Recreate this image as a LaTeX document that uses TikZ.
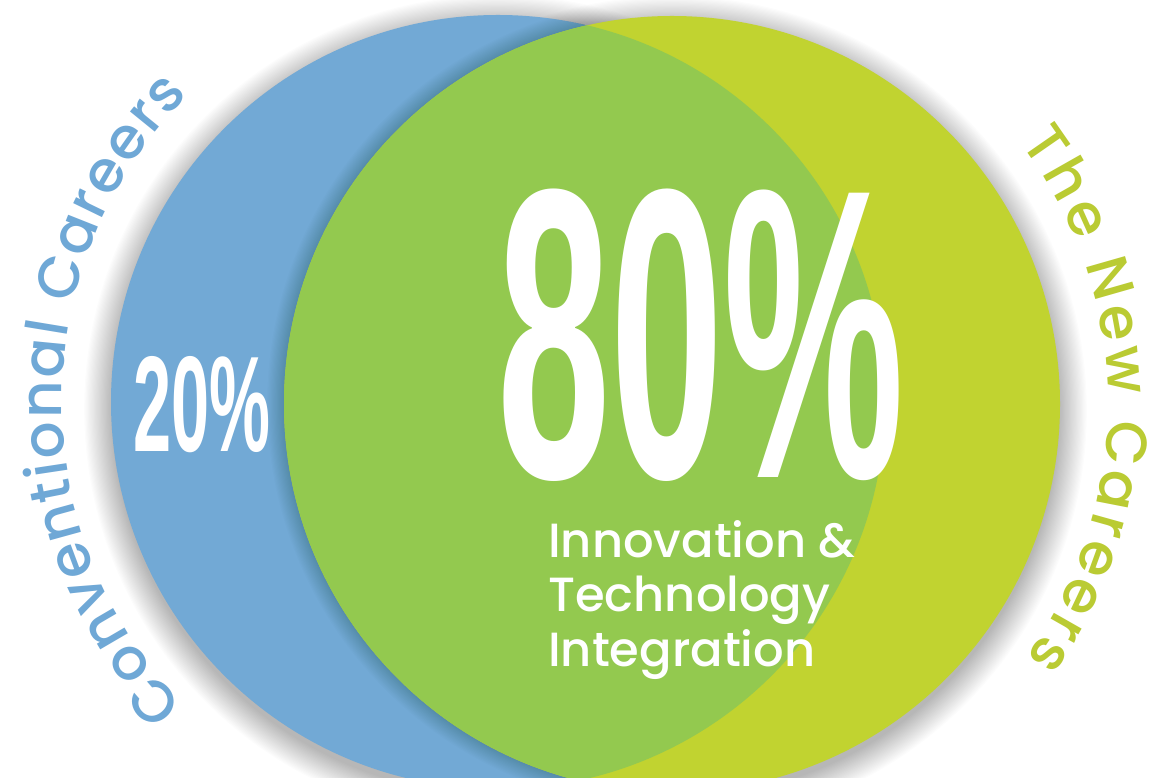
\documentclass[tikz,border=0pt]{standalone}
\usepackage{fontspec}
\usepackage{graphicx}
\usetikzlibrary{decorations.text}
\setmainfont{Poppins}
\newfontfamily\popm{Poppins Medium}
\newfontfamily\numfont{Liberation Sans}
\definecolor{cblue}{HTML}{72A9D5}
\definecolor{cyellow}{HTML}{C1D330}
\definecolor{cgreen}{HTML}{93C94F}
\definecolor{tblue}{HTML}{6FA8D6}
\definecolor{tyellow}{HTML}{BACB33}
\newcommand\crvfont{\popm\fontsize{58}{58}\selectfont}
\tikzset{
  shadowring/.style={black,opacity=0.011},
  innershadow/.style={black,opacity=0.012},
  bigpct/.style={inner sep=0pt,anchor=base west,text=white},
  itline/.style={inner sep=0pt,anchor=base west,text=white,font=\popm\fontsize{48}{48}\selectfont},
}
\begin{document}
\begin{tikzpicture}[x=1pt,y=1pt]
\useasboundingbox (0,0) rectangle (1158,778);
\clip (0,0) rectangle (1158,778);
\fill[white] (0,0) rectangle (1158,778);
\coordinate (bc) at (498,376);
\coordinate (yc) at (672,374);
% outer soft shadow, cast slightly downward
\foreach \i in {1,...,24} {
  \fill[shadowring] ([yshift=-7pt]bc) circle[radius=385+1.2*\i];
  \fill[shadowring] ([yshift=-7pt]yc) circle[radius=386+1.2*\i];
}
% blue circle
\fill[cblue] (bc) circle[radius=387];
\begin{scope}
  \clip (bc) circle[radius=387];
  \foreach \i in {1,...,14} \fill[innershadow] (yc) circle[radius=388+1.2*\i];
\end{scope}
% yellow circle
\fill[cyellow] (yc) circle[radius=388];
% overlap
\begin{scope}
  \clip (bc) circle[radius=387];
  \fill[cgreen] (yc) circle[radius=388];
\end{scope}
% curved labels
\path[decorate,decoration={text along path,text align={fit to path},text color=tblue,
  text={|\crvfont|Conventional Careers}}]
  (bc) ++(224:436) arc[start angle=224,end angle=135.2,radius=436];
\path[decorate,decoration={text along path,text align={fit to path},text color=tyellow,
  text={|\crvfont|The New Careers}}]
  (yc) ++(36.9:436) arc[start angle=36.9,end angle=-35.7,radius=436];
% numbers
\node[bigpct] (p20) at (133,326) {\resizebox{137pt}{95pt}{\numfont\bfseries 20\%}};
\node[bigpct] (p80) at (497,300) {\resizebox{407pt}{288pt}{\numfont\bfseries 80\%}};
% inner text
\node[itline] (l1) at (548,220) {Innovation \&};
\node[itline] (l2) at (548,166) {Technology};
\node[itline] (l3) at (548,111) {Integration};
\end{tikzpicture}
\end{document}
